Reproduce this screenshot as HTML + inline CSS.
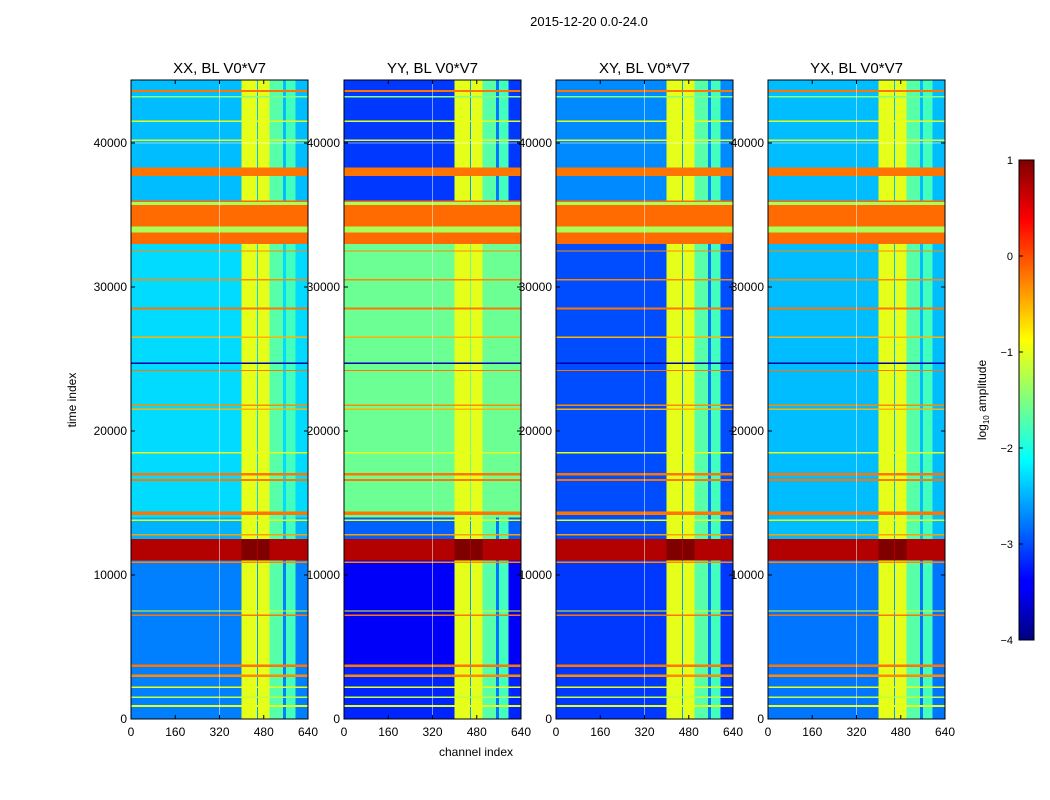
<!DOCTYPE html>
<html><head><meta charset="utf-8"><style>
html,body{margin:0;padding:0;background:#fff;}
svg{display:block;font-family:"Liberation Sans",sans-serif;}
</style></head><body>
<svg id="fig" width="1050" height="800" viewBox="0 0 1050 800">
<defs>
<linearGradient id="jetGrad" x1="0" y1="1" x2="0" y2="0">
<stop offset="0" stop-color="#00007f"/><stop offset="0.11" stop-color="#0000ff"/>
<stop offset="0.125" stop-color="#0000ff"/><stop offset="0.375" stop-color="#00ffff"/>
<stop offset="0.625" stop-color="#ffff00"/><stop offset="0.875" stop-color="#ff0000"/>
<stop offset="1" stop-color="#7f0000"/>
</linearGradient>
</defs>
<text x="589" y="26" font-size="13" text-anchor="middle">2015-12-20 0.0-24.0</text>
<text x="76" y="400" font-size="12" text-anchor="middle" transform="rotate(-90 76 400)">time index</text>
<text x="476" y="756" font-size="12" text-anchor="middle">channel index</text>
<g id="panels"></g>
<g id="cbar"></g>
<text x="986" y="400" font-size="12" text-anchor="middle" transform="rotate(-90 986 400)">log<tspan font-size="8" dy="3">10</tspan><tspan dy="-3"> amplitude</tspan></text>
</svg>
<script>
// ---- data ----
const panelTitles = ["XX, BL V0*V7","YY, BL V0*V7","XY, BL V0*V7","YX, BL V0*V7"];
const panelLeft = [131,344,556,768];
// time bands per panel: [start, end, log10 amplitude]
const rowsXX = [[0,11000,-2.75],[11000,12500,0.75],[12500,14000,-2.5],[14000,17000,-2.3],[17000,33000,-2.3],[33000,36000,-0.15],[36000,44375,-2.45]];
const rowsYY = [[0,3800,-3.2],[3800,11000,-3.4],[11000,12500,0.75],[12500,14000,-2.9],[14000,33000,-1.6],[33000,36000,-0.15],[36000,44375,-3.1]];
const rowsXY = [[0,11000,-3.1],[11000,12500,0.75],[12500,33000,-3.0],[33000,36000,-0.15],[36000,44375,-2.7]];
const rowsYX = [[0,11000,-2.8],[11000,12500,0.75],[12500,33000,-2.45],[33000,36000,-0.15],[36000,44375,-2.45]];
const panelRows = [rowsXX,rowsYY,rowsXY,rowsYX];
// channel RFI columns: [startCh, endCh, log10 amplitude]
const rfiCols = [[400,455,-1.0],[455,460,-2.6],[460,500,-1.0],[500,550,-1.7],[550,560,-2.8],[560,595,-1.8]];
// horizontal RFI lines: [time, width, log10 amplitude]
const hLines = [[38000,600,-0.2],[43600,150,-0.2],[43200,100,-1.5],[41500,100,-1.0],[40200,100,-1.0],
 [34000,400,-1.3],[35800,200,-1.3],[32500,100,-0.3],[30500,100,-0.3],[28500,150,-0.2],[26500,100,-0.5],
 [24700,100,-3.8],[24200,100,-0.2],[21800,100,-0.3],[21500,100,-0.5],[18500,100,-1.0],[17000,200,-0.2],
 [16600,150,-0.2],[14300,250,-0.2],[13800,100,-1.0],[12800,100,-0.4],[10900,100,-0.3],[7500,100,-1.0],
 [7200,100,-0.2],[3700,150,-0.2],[3000,150,-0.3],[2200,100,-1.0],[1500,100,-1.2],[900,150,-1.0]];
const xTicks = [0,160,320,480,640];
const yTicks = [0,10000,20000,30000,40000];
const cbTicks = [1,0,-1,-2,-3,-4];
// ---- scales ----
const W = 177, TOP = 80, BOT = 719, TMAX = 44375, CMAX = 640, VMIN = -4, VMAX = 1;
const ys = t => BOT - (t / TMAX) * (BOT - TOP);
const xs = (c, x0) => x0 + (c / CMAX) * W;
function jet(v){
  let f = Math.max(0, Math.min(1, (v - VMIN) / (VMAX - VMIN)));
  const cl = a => Math.max(0, Math.min(1, a));
  const r = cl(1.5 - Math.abs(4*f - 3)), g = cl(1.5 - Math.abs(4*f - 2)), b = cl(1.5 - Math.abs(4*f - 1));
  return `rgb(${Math.round(r*255)},${Math.round(g*255)},${Math.round(b*255)})`;
}
const NS = "http://www.w3.org/2000/svg";
function mk(tag, attrs, parent){ const e = document.createElementNS(NS, tag); for (const k in attrs) e.setAttribute(k, attrs[k]); parent.appendChild(e); return e; }
const root = document.getElementById('panels');
panelTitles.forEach((title, p) => {
  const x0 = panelLeft[p];
  const g = mk('g', {'shape-rendering':'crispEdges'}, root);
  
  
  panelRows[p].forEach(r => {
    const y1 = ys(r[1]), y2 = ys(r[0]);
    const band = mk('rect', {x:x0, y:y1, width:W, height:y2-y1, fill:jet(r[2])}, g);
    
    
    if (r[2] > -0.5 && r[2] < 0.3) return;
    rfiCols.forEach(c => {
      const v = r[2] > 0 ? (c[2] > -1.5 ? 1.0 : r[2]) : Math.max(r[2], c[2]);
      const cell = mk('rect', {x:xs(c[0],x0), y:y1, width:xs(c[1],x0)-xs(c[0],x0), height:y2-y1, fill:jet(v)}, g);
      
      
    });
  });
  hLines.forEach(l => {
    const y1 = ys(l[0] + l[1]/2), y2 = ys(l[0] - l[1]/2);
    const ln = mk('rect', {x:x0, y:y1, width:W, height:Math.max(1, y2-y1), fill:jet(l[2])}, g);
    
    
  });
  mk('line', {x1:xs(320,x0), x2:xs(320,x0), y1:TOP, y2:BOT, stroke:'#fff', 'stroke-opacity':0.5, 'stroke-width':1}, g);
  mk('line', {x1:x0, x2:x0+W, y1:ys(40000), y2:ys(40000), stroke:'#fff', 'stroke-opacity':0.5, 'stroke-width':1}, g);
  const fr = mk('rect', {x:x0, y:TOP, width:W, height:BOT-TOP, fill:'none', stroke:'#000', 'stroke-width':1}, g);
  
  
  const tt = mk('text', {x:x0+W/2, y:TOP-7, 'font-size':15, 'text-anchor':'middle'}, root);
  tt.textContent = title;
  
  
  xTicks.forEach(t => {
    const x = xs(t, x0);
    mk('line', {x1:x, x2:x, y1:BOT, y2:BOT-4, stroke:'#000'}, root);
    mk('line', {x1:x, x2:x, y1:TOP, y2:TOP+4, stroke:'#000'}, root);
    const lb = mk('text', {x:x, y:BOT+17, 'font-size':12, 'text-anchor':'middle'}, root);
    lb.textContent = t;
    
    
  });
  yTicks.forEach(t => {
    const y = ys(t);
    mk('line', {x1:x0, x2:x0+4, y1:y, y2:y, stroke:'#000'}, root);
    mk('line', {x1:x0+W, x2:x0+W-4, y1:y, y2:y, stroke:'#000'}, root);
    const lb = mk('text', {x:x0-4, y:y+4, 'font-size':12, 'text-anchor':'end'}, root);
    lb.textContent = t;
    
    
  });
});
const cb = document.getElementById('cbar');
const CBX = 1019, CBW = 15, CBT = 160, CBB = 640;
const cby = v => CBB - (v - VMIN) / (VMAX - VMIN) * (CBB - CBT);
mk('rect', {x:CBX, y:CBT, width:CBW, height:CBB-CBT, fill:'url(#jetGrad)', stroke:'#000'}, cb);
cbTicks.forEach(v => {
  const y = cby(v);
  mk('line', {x1:CBX, x2:CBX+4, y1:y, y2:y, stroke:'#000'}, cb);
  const lb = mk('text', {x:CBX-6, y:y+4, 'font-size':11, 'text-anchor':'end'}, cb);
  lb.textContent = v < 0 ? '\u2212' + (-v) : String(v);
  
  
});
</script>
</body></html>
